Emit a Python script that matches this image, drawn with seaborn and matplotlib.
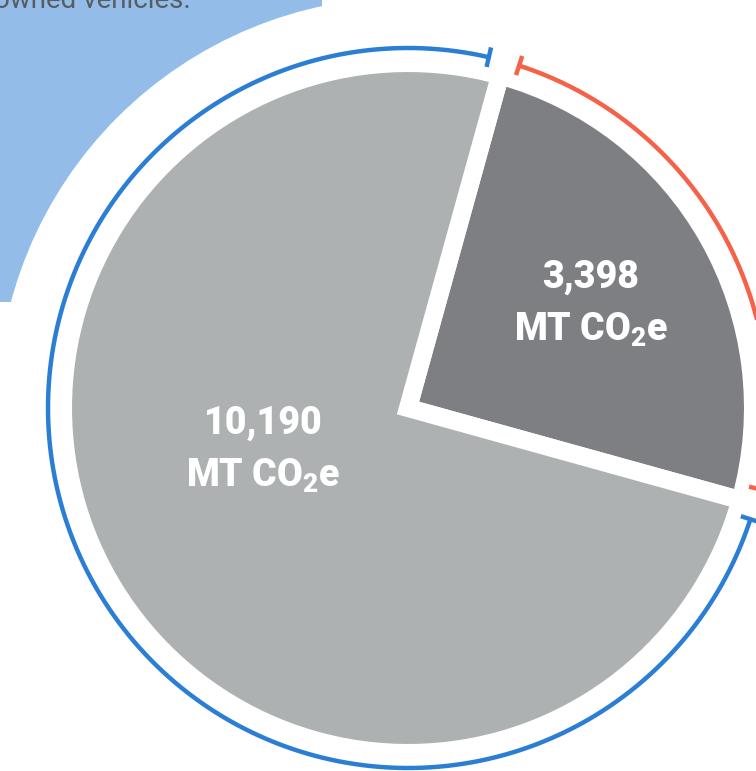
import numpy as np
import matplotlib.pyplot as plt
import matplotlib.patches as mpatches
import seaborn as sns

# emissions split, MT CO2e (small slice first, drawn counter-clockwise)
slice_values = [3398, 10190]
slice_labels = ["3,398", "10,190"]
unit_label = "MT CO$_2$e"
caption_tail = "owned vehicles."

sns.set_theme(style="white")
plt.rcParams["font.family"] = ["Roboto", "DejaVu Sans"]
plt.rcParams["mathtext.fontset"] = "custom"
plt.rcParams["mathtext.rm"] = "Roboto:black"
plt.rcParams["mathtext.it"] = "Roboto:black"
plt.rcParams["mathtext.bf"] = "Roboto:black"

slice_colors = sns.color_palette(["#7e7f83", "#aeb1b1"])
ring_colors = sns.color_palette(["#f4624a", "#2a7fd4"])
blob_color = "#93bde8"

W, H = 756, 771
fig = plt.figure(figsize=(W / 100, H / 100), dpi=100)
ax = fig.add_axes([0, 0, 1, 1])

cx, cy = 408, H - 408      # pie centre (y up)
R = 345                    # white edge eats ~9 px of it
start = -15.5

# light blue panel behind, with a white disc cut round the pie
ax.add_patch(mpatches.Rectangle((-10, H - 302), 332, 320, color=blob_color, lw=0))
ax.add_patch(mpatches.Circle((cx, cy), 411, color="white", lw=0))

ax.pie(slice_values, colors=slice_colors, startangle=start, counterclock=True,
       center=(cx, cy), radius=R,
       wedgeprops=dict(edgecolor="white", linewidth=13, joinstyle="miter"))

# outline rings with end ticks
total = sum(slice_values)
spans = [v / total * 360 for v in slice_values]
gap = 2.5
a0 = start
a1 = start + spans[0]
ring_r = 360

rings = [
    (a0 + gap, a1 - gap, ring_colors[0]),
    (a1 + gap, a0 + 360 - gap, ring_colors[1]),
]
for t1, t2, col in rings:
    th = np.radians(np.linspace(t1, t2, 400))
    ax.plot(cx + ring_r * np.cos(th), cy + ring_r * np.sin(th), color=col, lw=3.2,
            solid_capstyle="butt")
    for t in (t1, t2):
        t = np.radians(t)
        ax.plot([cx + (ring_r - 10) * np.cos(t), cx + (ring_r + 10) * np.cos(t)],
                [cy + (ring_r - 10) * np.sin(t), cy + (ring_r + 10) * np.sin(t)],
                color=col, lw=3.2, solid_capstyle="butt")

# value labels
label_pos = [(591, 277), (263, 423)]
for (x, y), lab in zip(label_pos, slice_labels):
    ax.text(x, H - y, lab, ha="center", va="center", color="white",
            fontsize=27, fontweight="black")
    ax.text(x, H - y - 53, unit_label, ha="center", va="center", color="white",
            fontsize=27, fontweight="black")

ax.text(-6, H - 8, caption_tail, ha="left", va="baseline", color="#575c61",
        fontsize=20)

ax.set_xlim(0, W)
ax.set_ylim(0, H)
ax.set_aspect("equal")
ax.axis("off")

fig.savefig("out.png", dpi=100)
